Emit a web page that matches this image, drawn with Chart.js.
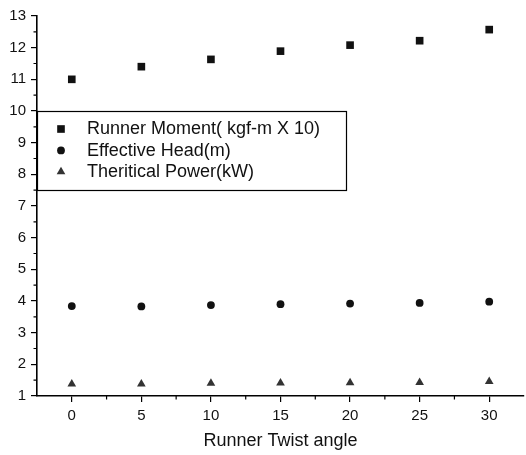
<!DOCTYPE html>
<html>
<head>
<meta charset="utf-8">
<script src="https://cdn.jsdelivr.net/npm/chart.js@4.4.1/dist/chart.umd.min.js"></script>
<style>
  html, body { margin: 0; padding: 0; background: #fff; }
  #wrap { width: 526px; height: 455px; }
</style>
</head>
<body>
<div id="wrap"><canvas id="chart" width="526" height="455"></canvas></div>
<script>
// twist angles (deg)
var angles = [0, 5, 10, 15, 20, 25, 30];
var runnerMoment = [11.0, 11.4, 11.63, 11.89, 12.08, 12.22, 12.57];
var effectiveHead = [3.84, 3.83, 3.87, 3.9, 3.92, 3.94, 3.98];
var theoPower = [1.38, 1.38, 1.4, 1.41, 1.42, 1.43, 1.46];
var xTicks = [0, 5, 10, 15, 20, 25, 30];
var yTicks = [1, 2, 3, 4, 5, 6, 7, 8, 9, 10, 11, 12, 13];
var labels = ['Runner Moment( kgf-m X 10)', 'Effective Head(m)', 'Theritical Power(kW)'];

function toPoints(ys) {
    return angles.map(function (a, i) { return { x: a, y: ys[i] } })
}

var FONT = "'Liberation Sans', Arial, sans-serif";

var sets = [
    { label: labels[0], data: toPoints(runnerMoment), pointStyle: 'rect', pointRadius: 5.4, backgroundColor: '#111', borderColor: '#111' },
    { label: labels[1], data: toPoints(effectiveHead), pointStyle: 'circle', pointRadius: 3.9, backgroundColor: '#111', borderColor: '#111' },
    { label: labels[2], data: toPoints(theoPower), pointStyle: 'triangle', pointRadius: 5, backgroundColor: '#333', borderColor: '#333' }
];
sets.forEach(function (s) { s.borderWidth = 0; s.showLine = false; s.pointHoverRadius = s.pointRadius });

// minor ticks between the major ones
var minorTicks = {
    id: 'minorTicks',
    afterDraw: function (chart) {
        var ctx = chart.ctx, xs = chart.scales.x, ys = chart.scales.y;
        ctx.save();
        ctx.strokeStyle = '#000';
        ctx.lineWidth = 1.2;
        ctx.beginPath();
        for (var v = 2.5; v < 32.5; v += 5) {
            var px = xs.getPixelForValue(v);
            ctx.moveTo(px, xs.top);
            ctx.lineTo(px, xs.top + 3.5);
        }
        for (var w = 1.5; w < 13; w += 1) {
            var py = ys.getPixelForValue(w);
            ctx.moveTo(ys.right, py);
            ctx.lineTo(ys.right - 3.5, py);
        }
        ctx.stroke();
        ctx.restore();
    }
};

// boxed legend sitting inside the plot
var boxLegend = {
    id: 'boxLegend',
    afterDatasetsDraw: function (chart) {
        var ctx = chart.ctx;
        var x0 = 37, y0 = 111, w = 309, h = 79;
        ctx.save();
        ctx.fillStyle = '#fff';
        ctx.fillRect(x0, y0, w, h);
        ctx.strokeStyle = '#000';
        ctx.lineWidth = 1.2;
        ctx.strokeRect(x0 + 0.5, y0 + 0.5, w, h);
        ctx.font = '18px ' + FONT;
        ctx.textBaseline = 'middle';
        for (var i = 0; i < sets.length; i++) {
            var cy = 129 + i * 21.4;
            ctx.fillStyle = sets[i].backgroundColor;
            ctx.strokeStyle = sets[i].borderColor;
            Chart.helpers.drawPoint(ctx, { pointStyle: sets[i].pointStyle, radius: sets[i].pointRadius, rotation: 0, borderWidth: 0 }, 61, cy);
            ctx.fillStyle = '#111';
            ctx.fillText(sets[i].label, 87, cy + 0.5);
        }
        ctx.restore();
    }
};

new Chart(document.getElementById('chart').getContext('2d'), {
    type: 'scatter',
    data: { datasets: sets },
    options: {
        responsive: false,
        animation: false,
        layout: { autoPadding: false, padding: { top: 16, right: 2, left: 0, bottom: 0 } },
        plugins: { legend: { display: false }, tooltip: { enabled: false } },
        scales: {
            x: {
                type: 'linear', min: -2.5, max: 32.5,
                afterBuildTicks: function (s) { s.ticks = xTicks.map(function (v) { return { value: v } }) },
                afterFit: function (s) { s.height = 59 },
                grid: { drawOnChartArea: false, drawTicks: true, tickLength: 6, color: '#000', lineWidth: 1.2 },
                border: { display: true, color: '#000', width: 1.6 },
                ticks: { color: '#111', font: { family: FONT, size: 15 }, padding: 5, maxRotation: 0 },
                title: { display: true, text: 'Runner Twist angle', color: '#111', font: { family: FONT, size: 18 }, padding: { top: 0, bottom: 3 } }
            },
            y: {
                type: 'linear', min: 1, max: 13,
                afterBuildTicks: function (s) { s.ticks = yTicks.map(function (v) { return { value: v } }) },
                afterFit: function (s) { s.width = 37 },
                grid: { drawOnChartArea: false, drawTicks: true, tickLength: 6, color: '#000', lineWidth: 1.2 },
                border: { display: true, color: '#000', width: 1.6 },
                ticks: { color: '#111', font: { family: FONT, size: 15 }, padding: 5 }
            }
        }
    },
    plugins: [minorTicks, boxLegend]
});
</script>
</body>
</html>
